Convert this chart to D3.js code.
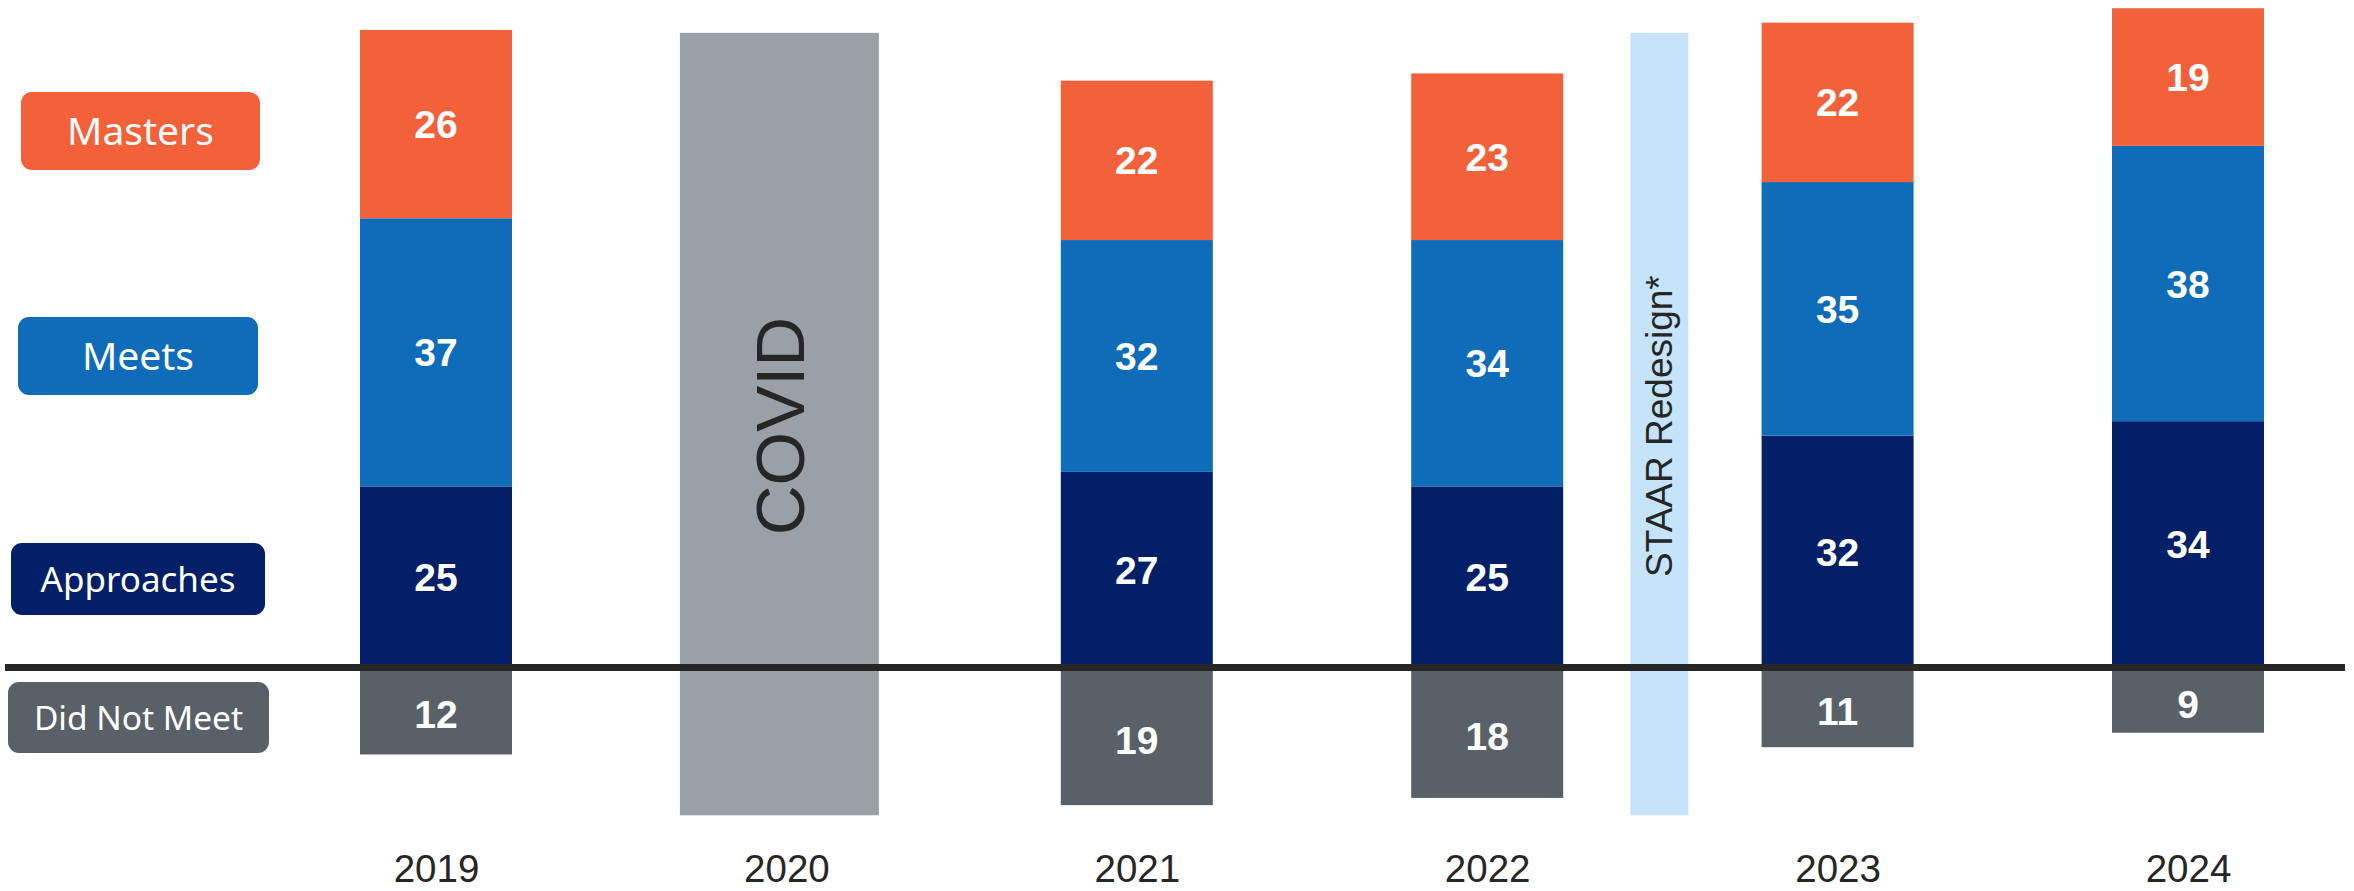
<!DOCTYPE html>
<html>
<head>
<meta charset="utf-8">
<script src="https://cdn.jsdelivr.net/npm/d3@7/dist/d3.min.js"></script>
<style>
  html, body { margin: 0; padding: 0; background: #ffffff; }
  svg { display: block; }
</style>
</head>
<body>
<svg id="chart" width="2354" height="891"></svg>
<script>
// ---- DATA ----
const years = ["2019", "2020", "2021", "2022", "2023", "2024"];
const approaches = [25, null, 27, 25, 32, 34];
const meets = [37, null, 32, 34, 35, 38];
const masters = [26, null, 22, 23, 22, 19];
const didNotMeet = [12, null, 19, 18, 11, 9];
const seriesNames = ["Masters", "Meets", "Approaches", "Did Not Meet"];
const covidLabel = "COVID";
const covidYear = "2020";
const covidRange = [-20.4, 87.6];
const redesignLabel = "STAAR Redesign*";
const redesignBetween = ["2022", "2023"];
const redesignRange = [-20.4, 87.6];

// ---- STYLE ----
const colors = {
  "Masters": "#F2613A",
  "Meets": "#0E6CB9",
  "Approaches": "#031F67",
  "Did Not Meet": "#5A6068"
};
const covidColor = "#99A0A7";
const redesignColor = "#C5E3F9";
const lineColor = "#262626";

const svg = d3.select("#chart");

const x = d3.scalePoint().domain(years).range([436, 2188]);
const pxPerUnit = 7.245;
const zeroY = 667.5;
const y = d3.scaleLinear().domain([-30, 100]).range([zeroY + 30 * pxPerUnit, zeroY - 100 * pxPerUnit]);

const barW = 152;

// Annotation bands
const covidW = 199;
svg.append("rect")
  .attr("x", x(covidYear) - 7 - covidW / 2)
  .attr("y", y(covidRange[1]))
  .attr("width", covidW)
  .attr("height", y(covidRange[0]) - y(covidRange[1]))
  .attr("fill", covidColor);
svg.append("text")
  .attr("transform", `translate(${x(covidYear) - 7 + 25},${y((covidRange[0] + covidRange[1]) / 2) + 2}) rotate(-90)`)
  .attr("text-anchor", "middle")
  .attr("font-family", "Liberation Sans, Arial, sans-serif")
  .attr("font-size", 69)
  .attr("fill", "#262626")
  .text(covidLabel);

const redW = 58;
const redCx = (x(redesignBetween[0]) + x(redesignBetween[1])) / 2 - 3;
svg.append("rect")
  .attr("x", redCx - redW / 2)
  .attr("y", y(redesignRange[1]))
  .attr("width", redW)
  .attr("height", y(redesignRange[0]) - y(redesignRange[1]))
  .attr("fill", redesignColor);
svg.append("text")
  .attr("transform", `translate(${redCx + 13},${y((redesignRange[0] + redesignRange[1]) / 2) + 2}) rotate(-90)`)
  .attr("text-anchor", "middle")
  .attr("font-family", "Liberation Sans, Arial, sans-serif")
  .attr("font-size", 37)
  .attr("fill", "#262626")
  .text(redesignLabel);

// Build stacked segments
const rows = years.map((yr, i) => ({
  year: yr,
  "Approaches": approaches[i],
  "Meets": meets[i],
  "Masters": masters[i],
  "Did Not Meet": didNotMeet[i]
})).filter(d => d["Approaches"] !== null);

const stack = d3.stack().keys(["Approaches", "Meets", "Masters"]);
const stacked = stack(rows);

const segments = [];
stacked.forEach(layer => {
  layer.forEach(s => {
    segments.push({ key: layer.key, year: s.data.year, y0: s[0], y1: s[1], value: s.data[layer.key] });
  });
});
rows.forEach(r => {
  segments.push({ key: "Did Not Meet", year: r.year, y0: -r["Did Not Meet"], y1: 0, value: r["Did Not Meet"] });
});

const g = svg.append("g");
g.selectAll("rect.seg")
  .data(segments)
  .join("rect")
  .attr("class", "seg")
  .attr("x", d => x(d.year) - barW / 2)
  .attr("y", d => y(d.y1))
  .attr("width", barW)
  .attr("height", d => y(d.y0) - y(d.y1))
  .attr("fill", d => colors[d.key]);

g.selectAll("text.val")
  .data(segments)
  .join("text")
  .attr("class", "val")
  .attr("x", d => x(d.year))
  .attr("y", d => {
    if (d.key === "Did Not Meet") return (y(d.y0) + y(d.y1) + 7) / 2 + 14;
    return (y(d.y0) + y(d.y1)) / 2 + 14;
  })
  .attr("text-anchor", "middle")
  .attr("font-family", "Liberation Sans, Arial, sans-serif")
  .attr("font-weight", "bold")
  .attr("font-size", 39)
  .attr("fill", "#ffffff")
  .text(d => d.value);

// Baseline
svg.append("line")
  .attr("x1", 5).attr("x2", 2345)
  .attr("y1", y(0)).attr("y2", y(0))
  .attr("stroke", lineColor)
  .attr("stroke-width", 7);

// Year labels (x axis)
const xAxis = d3.axisBottom(x).tickSize(0).tickPadding(0);
const ax = svg.append("g").attr("transform", "translate(0,882)").call(xAxis);
ax.select(".domain").remove();
ax.selectAll("text")
  .attr("font-family", "Liberation Sans, Arial, sans-serif")
  .attr("font-size", 38.5)
  .attr("fill", "#262626")
  .attr("y", 0)
  .attr("dy", 0);

// Legend
const legendLayout = {
  "Masters":      { x0: 21, x1: 260, y0: 92,  y1: 170, fs: 39 },
  "Meets":        { x0: 18, x1: 258, y0: 317, y1: 395, fs: 39 },
  "Approaches":   { x0: 11, x1: 265, y0: 543, y1: 615, fs: 35 },
  "Did Not Meet": { x0: 8,  x1: 269, y0: 682, y1: 753, fs: 33.5 }
};
const leg = svg.append("g");
seriesNames.forEach(name => {
  const L = legendLayout[name];
  leg.append("rect")
    .attr("x", L.x0).attr("y", L.y0)
    .attr("width", L.x1 - L.x0).attr("height", L.y1 - L.y0)
    .attr("rx", 11).attr("ry", 11)
    .attr("fill", colors[name]);
  leg.append("text")
    .attr("x", (L.x0 + L.x1) / 2)
    .attr("y", (L.y0 + L.y1) / 2 + L.fs * 0.36)
    .attr("text-anchor", "middle")
    .attr("font-family", "Noto Sans, sans-serif")
    .attr("font-size", L.fs)
    .attr("fill", "#ffffff")
    .text(name);
});
</script>
</body>
</html>
